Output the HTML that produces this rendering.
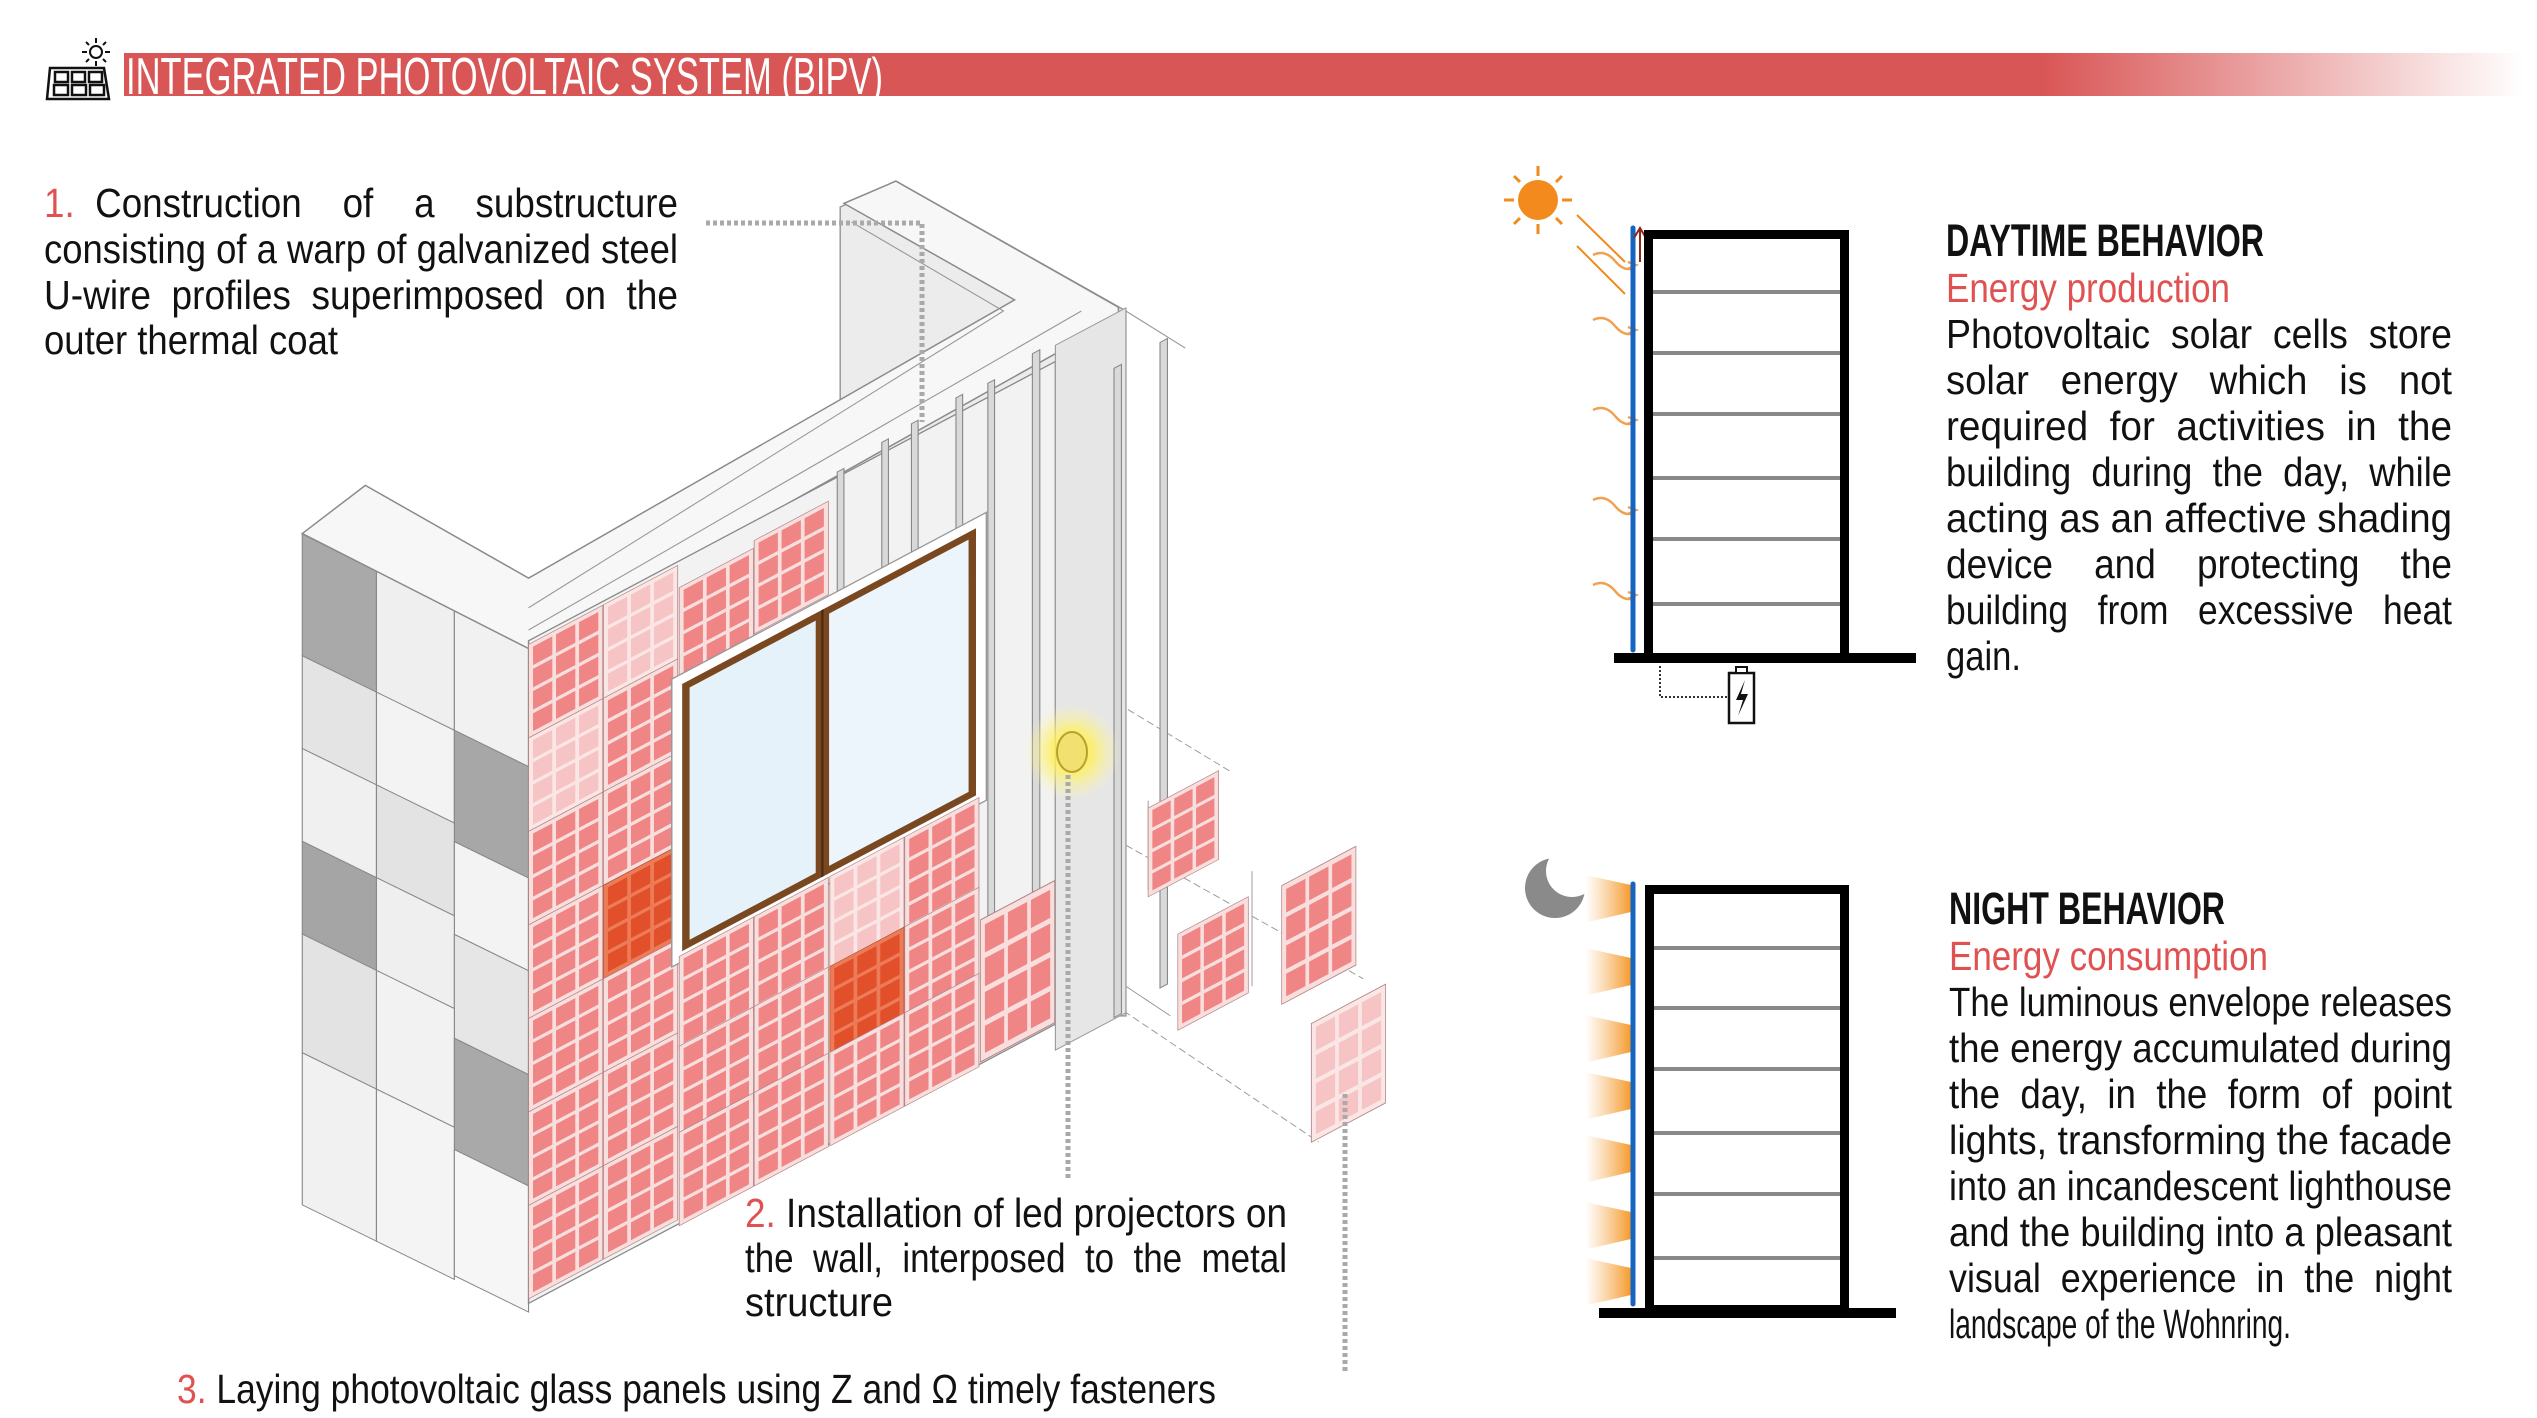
<!DOCTYPE html>
<html><head><meta charset="utf-8"><style>
html,body{margin:0;padding:0;background:#fff;width:2537px;height:1418px;overflow:hidden}
svg{display:block}
text{font-family:"Liberation Sans Narrow","Liberation Sans",sans-serif;white-space:pre}
.b{font-size:41px;fill:#111}
.h{font-size:45px;font-weight:bold;fill:#111}
.r{fill:#e05252}
</style></head><body>
<svg width="2537" height="1418" viewBox="0 0 2537 1418" xmlns="http://www.w3.org/2000/svg">
<defs>
<linearGradient id="hdr" x1="0" x2="1" y1="0" y2="0">
<stop offset="0" stop-color="#d95656"/><stop offset="0.8" stop-color="#d95656"/><stop offset="1" stop-color="#d95656" stop-opacity="0"/>
</linearGradient>
<linearGradient id="glow" x1="1" x2="0" y1="0" y2="0">
<stop offset="0" stop-color="#f59a2c"/><stop offset="1" stop-color="#f8b060" stop-opacity="0"/>
</linearGradient>
<radialGradient id="led">
<stop offset="0" stop-color="#ffef40"/><stop offset="0.45" stop-color="#fff060" stop-opacity="0.8"/><stop offset="1" stop-color="#fff8a0" stop-opacity="0"/>
</radialGradient>
<g id="pn">
<rect x="0" y="0" width="100" height="126" fill="#f9dede" stroke="#b08080" stroke-width="1"/>
<g fill="#ef8585">
<rect x="6" y="6" width="26" height="25"/><rect x="37" y="6" width="26" height="25"/><rect x="68" y="6" width="26" height="25"/>
<rect x="6" y="36" width="26" height="25"/><rect x="37" y="36" width="26" height="25"/><rect x="68" y="36" width="26" height="25"/>
<rect x="6" y="66" width="26" height="25"/><rect x="37" y="66" width="26" height="25"/><rect x="68" y="66" width="26" height="25"/>
<rect x="6" y="96" width="26" height="24"/><rect x="37" y="96" width="26" height="24"/><rect x="68" y="96" width="26" height="24"/>
</g></g>
<g id="pp">
<rect x="0" y="0" width="100" height="126" fill="#fbe6e6" stroke="#b08080" stroke-width="1"/>
<g fill="#f6c4c4">
<rect x="6" y="6" width="26" height="25"/><rect x="37" y="6" width="26" height="25"/><rect x="68" y="6" width="26" height="25"/>
<rect x="6" y="36" width="26" height="25"/><rect x="37" y="36" width="26" height="25"/><rect x="68" y="36" width="26" height="25"/>
<rect x="6" y="66" width="26" height="25"/><rect x="37" y="66" width="26" height="25"/><rect x="68" y="66" width="26" height="25"/>
<rect x="6" y="96" width="26" height="24"/><rect x="37" y="96" width="26" height="24"/><rect x="68" y="96" width="26" height="24"/>
</g></g>
<g id="po">
<rect x="0" y="0" width="100" height="126" fill="#ee7b58" stroke="#a05030" stroke-width="1"/>
<g fill="#e1502a">
<rect x="6" y="6" width="26" height="25"/><rect x="37" y="6" width="26" height="25"/><rect x="68" y="6" width="26" height="25"/>
<rect x="6" y="36" width="26" height="25"/><rect x="37" y="36" width="26" height="25"/><rect x="68" y="36" width="26" height="25"/>
<rect x="6" y="66" width="26" height="25"/><rect x="37" y="66" width="26" height="25"/><rect x="68" y="66" width="26" height="25"/>
<rect x="6" y="96" width="26" height="24"/><rect x="37" y="96" width="26" height="24"/><rect x="68" y="96" width="26" height="24"/>
</g></g>
</defs>

<rect x="124" y="53" width="2400" height="43" fill="url(#hdr)"/>
<text x="126" y="94" font-size="52" fill="#fff" textLength="757" lengthAdjust="spacingAndGlyphs">INTEGRATED PHOTOVOLTAIC SYSTEM (BIPV)</text>
<g stroke="#111" fill="none" stroke-width="2.5">
<polygon points="50,68 104,68 109,99 47,99" fill="#fff"/>
<rect x="55" y="72" width="13" height="10"/><rect x="72" y="72" width="13" height="10"/><rect x="89" y="72" width="13" height="10"/>
<rect x="54" y="85" width="14" height="10"/><rect x="72" y="85" width="14" height="10"/><rect x="90" y="85" width="14" height="10"/>
<circle cx="96" cy="52" r="6" stroke-width="2"/>
<path d="M96,38v5M96,61v5M82,52h5M105,52h5M86,42l3,3M103,59l3,3M106,42l-3,3M89,59l-3,3" stroke-width="2"/>
</g>

<g transform="translate(280,170) scale(0.742)">
<polygon points="755,50 830,15 1140,190 1140,1140 755,1140" fill="#ececec" stroke="#9a9a9a" stroke-width="2"/>
<line x1="1140" y1="190" x2="1220" y2="240" stroke="#999" stroke-width="1.5"/>
<line x1="1040" y1="665" x2="1280" y2="810" stroke="#999" stroke-width="1.3" stroke-dasharray="10 5"/>
<line x1="1050" y1="1075" x2="1400" y2="1310" stroke="#999" stroke-width="1.3" stroke-dasharray="10 5"/>
<line x1="1050" y1="1040" x2="1200" y2="1140" stroke="#999" stroke-width="1.3"/>
<line x1="1140" y1="910" x2="1460" y2="1090" stroke="#999" stroke-width="1.3" stroke-dasharray="10 5"/>
<line x1="1170" y1="850" x2="1170" y2="970" stroke="#999" stroke-width="1.3"/>
<line x1="1310" y1="945" x2="1310" y2="1100" stroke="#999" stroke-width="1.3"/>
<line x1="1390" y1="1150" x2="1390" y2="1310" stroke="#999" stroke-width="1.3"/>
</g>

<g transform="translate(280,170) scale(0.742) matrix(1,0.49,0,1,0,0)" stroke="#888" stroke-width="1.5">
<rect x="30" y="476" width="100" height="164" fill="#a9a9a9"/><rect x="130" y="476" width="105" height="164" fill="#efefef"/><rect x="235" y="476" width="100" height="164" fill="#f1f1f1"/>
<rect x="30" y="640" width="100" height="125" fill="#e4e4e4"/><rect x="130" y="640" width="105" height="125" fill="#f3f3f3"/><rect x="235" y="640" width="100" height="150" fill="#a7a7a7"/>
<rect x="30" y="765" width="100" height="125" fill="#f0f0f0"/><rect x="130" y="765" width="105" height="125" fill="#e3e3e3"/><rect x="235" y="790" width="100" height="125" fill="#f3f3f3"/>
<rect x="30" y="890" width="100" height="125" fill="#a5a5a5"/><rect x="130" y="890" width="105" height="125" fill="#efefef"/><rect x="235" y="915" width="100" height="140" fill="#e6e6e6"/>
<rect x="30" y="1015" width="100" height="160" fill="#e3e3e3"/><rect x="130" y="1015" width="105" height="160" fill="#f2f2f2"/><rect x="235" y="1055" width="100" height="150" fill="#a9a9a9"/>
<rect x="30" y="1175" width="100" height="205" fill="#f1f1f1"/><rect x="130" y="1175" width="105" height="205" fill="#f4f4f4"/><rect x="235" y="1205" width="100" height="170" fill="#f6f6f6"/>
</g>

<g transform="translate(280,170) scale(0.742)">
<polygon points="30,490 115,425 335,550 990,175 760,45 830,15 1130,185 1130,200 335,645" fill="#f7f7f7" stroke="#8a8a8a" stroke-width="2"/>
<polyline points="335,590 975,190 770,70" fill="none" stroke="#999" stroke-width="1.5"/>
<polyline points="335,620 1080,190" fill="none" stroke="#999" stroke-width="1.5"/>
</g>

<g transform="translate(280,170) scale(0.742) matrix(1,-0.53,0,1,0,0)">
<rect x="335" y="812" width="710" height="893" fill="#f2f2f2" stroke="#8a8a8a" stroke-width="2"/>
<rect x="1045" y="790" width="95" height="950" fill="#e6e6e6" stroke="#9a9a9a" stroke-width="1.5"/>
<g fill="#d9d9d9" stroke="#888" stroke-width="1.5">
<rect x="751" y="805" width="9" height="175"/><rect x="811" y="797" width="9" height="183"/><rect x="851" y="793" width="9" height="187"/>
<rect x="911" y="790" width="9" height="190"/><rect x="954" y="793" width="9" height="725"/><rect x="1014" y="785" width="10" height="775"/>
<rect x="1124" y="863" width="10" height="875"/><rect x="1186" y="861" width="10" height="870"/>
</g>
<use href="#pn" x="335" y="817"/><use href="#pp" x="335" y="943"/><use href="#pn" x="335" y="1069"/><use href="#pn" x="335" y="1195"/><use href="#pn" x="335" y="1321"/><use href="#pn" x="335" y="1447"/><use href="#pn" x="335" y="1573"/>
<use href="#pp" x="436" y="817"/><use href="#pn" x="436" y="943"/><use href="#pn" x="436" y="1069"/><use href="#po" x="436" y="1195"/><use href="#pn" x="436" y="1321"/><use href="#pn" x="436" y="1447"/><use href="#pn" x="436" y="1573"/>
<use href="#pn" x="538" y="848"/><use href="#pn" x="639" y="838"/>
<rect x="528" y="966" width="424" height="388" fill="#fff" stroke="#999" stroke-width="2"/>
<rect x="542" y="980" width="396" height="360" fill="#7a4820"/>
<rect x="552" y="990" width="170" height="340" fill="#e6f2f9"/>
<rect x="740" y="990" width="188" height="340" fill="#ecf5fb"/>
<line x1="731" y1="980" x2="731" y2="1340" stroke="#4a2a10" stroke-width="3"/>
<use href="#pn" x="538" y="1345"/><use href="#pn" x="538" y="1466"/><use href="#pn" x="538" y="1582"/>
<use href="#pn" x="639" y="1345"/><use href="#pn" x="639" y="1466"/><use href="#pn" x="639" y="1582"/>
<use href="#pp" x="741" y="1345"/><use href="#po" x="741" y="1466"/><use href="#pn" x="741" y="1582"/>
<use href="#pn" x="842" y="1345"/><use href="#pn" x="842" y="1466"/><use href="#pn" x="842" y="1582"/>
<use href="#pn" transform="translate(944,1511) scale(1,1.52)"/>
<use href="#pn" transform="translate(1170,1480) scale(0.95,0.95)"/>
<use href="#pn" transform="translate(1210,1671) scale(0.95,1.03)"/>
<use href="#pn" transform="translate(1350,1680) scale(1,1.27)"/>
<use href="#pp" transform="translate(1390,1887) scale(1,1.27)"/>
</g>

<circle cx="1072" cy="752" r="48" fill="url(#led)"/>
<ellipse cx="1072" cy="752" rx="15" ry="20" fill="#f2e070" stroke="#b8a030" stroke-width="2"/>

<g stroke="#a9a9a9" stroke-width="5" fill="none" stroke-dasharray="4 3">
<polyline points="706,223 922,223 922,422"/>
<line x1="1068" y1="775" x2="1068" y2="1179"/>
<line x1="1345" y1="1094" x2="1345" y2="1372"/>
</g>

<text class="b" x="44" y="217" textLength="634" lengthAdjust="spacingAndGlyphs"><tspan class="r">1.</tspan>  Construction    of    a    substructure</text>
<text class="b" x="44" y="263" textLength="634" lengthAdjust="spacingAndGlyphs">consisting of a warp of galvanized steel</text>
<text class="b" x="44" y="309" textLength="634" lengthAdjust="spacingAndGlyphs">U-wire  profiles  superimposed  on  the</text>
<text class="b" x="44" y="354" textLength="294" lengthAdjust="spacingAndGlyphs">outer thermal coat</text>

<text class="b" x="745" y="1227" textLength="542" lengthAdjust="spacingAndGlyphs"><tspan class="r">2.</tspan> Installation of led projectors on</text>
<text class="b" x="745" y="1272" textLength="542" lengthAdjust="spacingAndGlyphs">the  wall,  interposed  to  the  metal</text>
<text class="b" x="745" y="1316" textLength="148" lengthAdjust="spacingAndGlyphs">structure</text>

<text class="b" x="177" y="1403" textLength="1039" lengthAdjust="spacingAndGlyphs"><tspan class="r">3.</tspan> Laying photovoltaic glass panels using Z and Ω timely fasteners</text>

<g>
<circle cx="1538" cy="200" r="20" fill="#f28a1e"/>
<g stroke="#f28a1e" stroke-width="3">
<line x1="1538" y1="166" x2="1538" y2="176"/><line x1="1538" y1="224" x2="1538" y2="234"/>
<line x1="1504" y1="200" x2="1514" y2="200"/><line x1="1562" y1="200" x2="1572" y2="200"/>
<line x1="1514" y1="176" x2="1520" y2="182"/><line x1="1556" y1="218" x2="1562" y2="224"/>
<line x1="1562" y1="176" x2="1556" y2="182"/><line x1="1520" y1="218" x2="1514" y2="224"/>
<line x1="1577" y1="215" x2="1625" y2="262" stroke-width="2"/><line x1="1577" y1="246" x2="1625" y2="294" stroke-width="2"/>
</g>
<g stroke="#f2a050" stroke-width="2.5" fill="none">
<path d="M1593,255 q12,-6 22,6 t20,6 M1628,262 l8,3 l-8,4"/>
<path d="M1593,320 q12,-6 22,6 t20,6 M1628,327 l8,3 l-8,4"/>
<path d="M1593,410 q12,-6 22,6 t20,6 M1628,417 l8,3 l-8,4"/>
<path d="M1593,500 q12,-6 22,6 t20,6 M1628,507 l8,3 l-8,4"/>
<path d="M1593,585 q12,-6 22,6 t20,6 M1628,592 l8,3 l-8,4"/>
</g>
<line x1="1633" y1="228" x2="1633" y2="650" stroke="#1565c0" stroke-width="5" stroke-linecap="round"/>
<path d="M1640,262 V228 M1634,238 l6,-10 l6,10" stroke="#8b2a1a" stroke-width="2" fill="none"/>
<rect x="1648.5" y="234.5" width="196" height="424" fill="none" stroke="#000" stroke-width="9"/>
<g stroke="#888" stroke-width="4">
<line x1="1653" y1="292" x2="1840" y2="292"/><line x1="1653" y1="353" x2="1840" y2="353"/><line x1="1653" y1="414" x2="1840" y2="414"/>
<line x1="1653" y1="478" x2="1840" y2="478"/><line x1="1653" y1="539" x2="1840" y2="539"/><line x1="1653" y1="604" x2="1840" y2="604"/>
</g>
<rect x="1614" y="653" width="302" height="10" fill="#000"/>
<polyline points="1660,666 1660,697 1728,697" fill="none" stroke="#333" stroke-width="2" stroke-dasharray="2 2"/>
<rect x="1729" y="673" width="25" height="50" fill="#fff" stroke="#111" stroke-width="2.5"/>
<rect x="1736" y="667" width="11" height="6" fill="#fff" stroke="#111" stroke-width="2"/>
<path d="M1745,680 l-9,20 h7 l-5,16 l10,-22 h-7 z" fill="#111"/>
</g>

<text class="h" x="1946" y="256" textLength="318" lengthAdjust="spacingAndGlyphs">DAYTIME BEHAVIOR</text>
<text class="b r" x="1946" y="302" textLength="284" lengthAdjust="spacingAndGlyphs">Energy production</text>
<text class="b" x="1946" y="348" textLength="506" lengthAdjust="spacingAndGlyphs">Photovoltaic  solar  cells  store</text>
<text class="b" x="1946" y="394" textLength="506" lengthAdjust="spacingAndGlyphs">solar   energy   which   is   not</text>
<text class="b" x="1946" y="440" textLength="506" lengthAdjust="spacingAndGlyphs">required  for  activities  in  the</text>
<text class="b" x="1946" y="486" textLength="506" lengthAdjust="spacingAndGlyphs">building  during  the  day,  while</text>
<text class="b" x="1946" y="532" textLength="506" lengthAdjust="spacingAndGlyphs">acting as an affective shading</text>
<text class="b" x="1946" y="578" textLength="506" lengthAdjust="spacingAndGlyphs">device    and    protecting    the</text>
<text class="b" x="1946" y="624" textLength="506" lengthAdjust="spacingAndGlyphs">building   from   excessive   heat</text>
<text class="b" x="1946" y="670" textLength="75" lengthAdjust="spacingAndGlyphs">gain.</text>

<g>
<circle cx="1555" cy="888" r="30" fill="#8a8a8a"/>
<circle cx="1572" cy="871" r="26" fill="#fff"/>
<g fill="url(#glow)">
<polygon points="1631,885 1631,912 1588,922 1585,875"/>
<polygon points="1631,958 1631,985 1588,995 1585,948"/>
<polygon points="1631,1025 1631,1052 1588,1062 1585,1015"/>
<polygon points="1631,1082 1631,1109 1588,1119 1585,1072"/>
<polygon points="1631,1145 1631,1172 1588,1182 1585,1135"/>
<polygon points="1631,1212 1631,1239 1588,1249 1585,1202"/>
<polygon points="1631,1268 1631,1295 1588,1305 1585,1258"/>
</g>
<line x1="1633" y1="884" x2="1633" y2="1304" stroke="#1565c0" stroke-width="5" stroke-linecap="round"/>
<rect x="1649.5" y="889.5" width="195" height="420" fill="none" stroke="#000" stroke-width="9"/>
<g stroke="#888" stroke-width="4">
<line x1="1654" y1="948" x2="1840" y2="948"/><line x1="1654" y1="1008" x2="1840" y2="1008"/><line x1="1654" y1="1069" x2="1840" y2="1069"/>
<line x1="1654" y1="1133" x2="1840" y2="1133"/><line x1="1654" y1="1194" x2="1840" y2="1194"/><line x1="1654" y1="1258" x2="1840" y2="1258"/>
</g>
<rect x="1599" y="1308" width="297" height="10" fill="#000"/>
</g>

<text class="h" x="1949" y="924" textLength="276" lengthAdjust="spacingAndGlyphs">NIGHT BEHAVIOR</text>
<text class="b r" x="1949" y="970" textLength="319" lengthAdjust="spacingAndGlyphs">Energy consumption</text>
<text class="b" x="1949" y="1016" textLength="503" lengthAdjust="spacingAndGlyphs">The luminous envelope releases</text>
<text class="b" x="1949" y="1062" textLength="503" lengthAdjust="spacingAndGlyphs">the energy accumulated during</text>
<text class="b" x="1949" y="1108" textLength="503" lengthAdjust="spacingAndGlyphs">the  day,  in  the  form  of  point</text>
<text class="b" x="1949" y="1154" textLength="503" lengthAdjust="spacingAndGlyphs">lights, transforming the facade</text>
<text class="b" x="1949" y="1200" textLength="503" lengthAdjust="spacingAndGlyphs">into an incandescent lighthouse</text>
<text class="b" x="1949" y="1246" textLength="503" lengthAdjust="spacingAndGlyphs">and the building into a pleasant</text>
<text class="b" x="1949" y="1292" textLength="503" lengthAdjust="spacingAndGlyphs">visual  experience  in  the  night</text>
<text class="b" x="1949" y="1338" textLength="342" lengthAdjust="spacingAndGlyphs">landscape of the Wohnring.</text>
</svg>
</body></html>
